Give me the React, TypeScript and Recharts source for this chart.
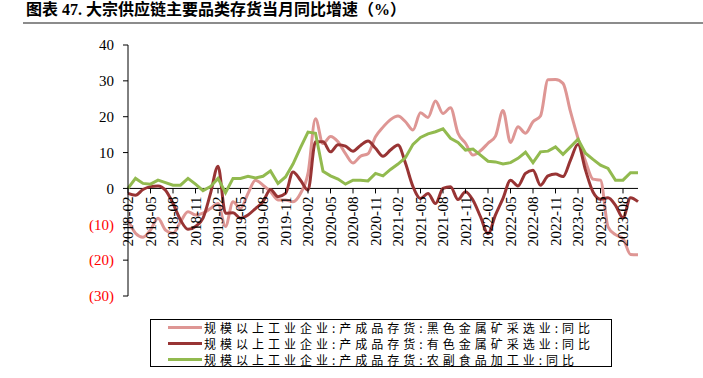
import { Line, LineChart, ReferenceLine, XAxis, YAxis } from 'recharts';

// 月份 2018-02 ~ 2023-10
const MONTHS = [
  '2018-02', '2018-03', '2018-04', '2018-05', '2018-06', '2018-07', '2018-08', '2018-09', '2018-10', '2018-11', '2018-12',
  '2019-01', '2019-02', '2019-03', '2019-04', '2019-05', '2019-06', '2019-07', '2019-08', '2019-09', '2019-10', '2019-11', '2019-12',
  '2020-01', '2020-02', '2020-03', '2020-04', '2020-05', '2020-06', '2020-07', '2020-08', '2020-09', '2020-10', '2020-11', '2020-12',
  '2021-01', '2021-02', '2021-03', '2021-04', '2021-05', '2021-06', '2021-07', '2021-08', '2021-09', '2021-10', '2021-11', '2021-12',
  '2022-01', '2022-02', '2022-03', '2022-04', '2022-05', '2022-06', '2022-07', '2022-08', '2022-09', '2022-10', '2022-11', '2022-12',
  '2023-01', '2023-02', '2023-03', '2023-04', '2023-05', '2023-06', '2023-07', '2023-08', '2023-09', '2023-10',
];

// 黑色金属矿采选业
const FERROUS = [
  -8.8, -12.5, -13.6, -11.6, -8.3, -11.6, -12.5, -9.3, -6.5, -7.4, -6.9,
  -5.6, -4.2, -10.6, -3.7, -5.6, -1.4, 2.3, 0.9, -0.9, -3.2, -3.2, -3.7,
  -1.4, 4.2, 19.4, 12.5, 14.5, 13, 9.7, 7.1, 9, 9.7, 14.4, 17.1,
  19.2, 20.2, 18.6, 16.3, 21.1, 19.8, 24.4, 20.9, 22.5, 15.4, 12.6, 9.3,
  10.5, 12.6, 14.6, 21.7, 12.8, 17.2, 15.4, 18.6, 20.2, 30.3, 30.4, 29.3,
  21.4, 14, 7.6, 2.6, 2.3, -10.7, -12.9, -14, -18.4, -18.5,
];

// 有色金属矿采选业
const NONFERROUS = [
  -1.4, -1.9, -0.3, 0.5, 0.7, -0.5, -4.2, -8.8, -11.4, -10.6, -8.3,
  -1.4, 6.2, -6.9, -6.8, -8.3, -7.4, -5.6, -3.7, -0.3, -2.3, -1.4, 4.6,
  2.3, -0.5, 13, 13, 10.2, 12.2, 11.8, 10.4, 12, 13.2, 11.2, 9,
  10.7, 12.1, 7, 0.5, -2.8, -1.4, -4.2, 0, 0.5, -3.1, -0.9, -3.3,
  -7.9, -12.6, -7.4, -2.8, 2.3, 0.7, 4.2, 5.1, 0.9, 3.5, 4, 3.3,
  7.9, 12.3, 5.1, -1, -3, -2.6, -4.7, -8.2, -2.6, -3.7,
];

// 农副食品加工业
const AGRI = [
  0, 2.8, 1.4, 1.2, 2.3, 1.6, 0.9, 0.9, 2.8, 1.2, -0.6,
  0.5, 2.8, -1.2, 2.8, 2.8, 3.4, 2.9, 3.4, 4.9, 1.4, 3.2, 6.8,
  11.4, 15.7, 15.4, 4.8, 3.5, 2.6, 1.2, 2.3, 2.3, 2.1, 4.2, 3.5,
  5.3, 6.8, 8.6, 12.3, 14.2, 15.2, 15.8, 16.6, 14, 12.8, 10.7, 11,
  9.3, 7.6, 7.4, 6.8, 7.2, 8.4, 10.1, 7.2, 10.2, 10.4, 11.6, 9.5,
  11.6, 13.7, 9.8, 8.1, 6.5, 5.6, 2.3, 2.3, 4.4, 4.4,
];

const Y_TICKS = [-30, -20, -10, 0, 10, 20, 30, 40];

const SERIES = [
  { key: 'ferrous', name: '规模以上工业企业:产成品存货:黑色金属矿采选业:同比', color: '#DE9694', curve: 'monotone' },
  { key: 'nonferrous', name: '规模以上工业企业:产成品存货:有色金属矿采选业:同比', color: '#983434', curve: 'monotone' },
  { key: 'agri', name: '规模以上工业企业:产成品存货:农副食品加工业:同比', color: '#92BA4F', curve: 'linear' },
] as const;

const data = MONTHS.map((m, i) => ({
  month: m,
  ferrous: FERROUS[i],
  nonferrous: NONFERROUS[i],
  agri: AGRI[i],
}));

const W = 703;
const H = 378;
const MARGIN = { top: 45, right: 65, bottom: 81, left: 68 };
const Y_MIN = -30;
const Y_MAX = 40;
const PLOT_H = H - MARGIN.top - MARGIN.bottom - 1;
const ZERO_Y = MARGIN.top + (PLOT_H * Y_MAX) / (Y_MAX - Y_MIN);

const SERIF = '"Liberation Serif", "Times New Roman", serif';

function MonthTick(props: any) {
  const { x, payload } = props;
  return (
    <g transform={`translate(${x},${ZERO_Y})`}>
      <line x1={0} y1={0} x2={0} y2={5} stroke="#000" />
      <text
        transform="rotate(-90)"
        x={-8}
        y={0}
        dy="0.35em"
        textAnchor="end"
        fontSize={15}
        fontFamily={SERIF}
        fill="#000"
      >
        {payload.value}
      </text>
    </g>
  );
}

function ValueTick(props: any) {
  const { x, y, payload } = props;
  const v = payload.value as number;
  const label = v < 0 ? `(${Math.abs(v)})` : `${v}`;
  return (
    <text x={x} y={y} dy="0.35em" textAnchor="end" fontSize={15} fontFamily={SERIF} fill={v < 0 ? '#FF0000' : '#000'}>
      {label}
    </text>
  );
}

export default function App() {
  return (
    <div style={{ position: 'relative', width: W, height: H, background: '#fff', overflow: 'hidden' }}>
      <style>{'body{margin:0}'}</style>

      {/* 标题 */}
      <div
        style={{
          position: 'absolute',
          left: 26,
          top: 1,
          fontSize: 16,
          fontWeight: 700,
          fontFamily: '"Liberation Serif", "Noto Sans CJK SC", serif',
          whiteSpace: 'nowrap',
          lineHeight: '18px',
        }}
      >
        图表 47. 大宗供应链主要品类存货当月同比增速（%）
      </div>
      <div style={{ position: 'absolute', left: 23, right: 0, top: 22, height: 2, background: '#8c8c8c' }} />

      <LineChart width={W} height={H} data={data} margin={MARGIN}>
        <XAxis
          dataKey="month"
          interval={2}
          height={1}
          axisLine={false}
          tickLine={false}
          tick={<MonthTick />}
        />
        <YAxis
          domain={[Y_MIN, Y_MAX]}
          ticks={Y_TICKS}
          width={60}
          tickSize={5}
          tickMargin={9}
          axisLine={{ stroke: '#000' }}
          tickLine={{ stroke: '#000' }}
          tick={<ValueTick />}
          allowDataOverflow
        />
        <ReferenceLine y={0} stroke="#000" strokeWidth={1} />
        {SERIES.map((s) => (
          <Line
            key={s.key}
            type={s.curve}
            dataKey={s.key}
            name={s.name}
            stroke={s.color}
            strokeWidth={3}
            dot={false}
            activeDot={false}
            isAnimationActive={false}
          />
        ))}
      </LineChart>

      {/* 图例 */}
      <div
        style={{
          position: 'absolute',
          left: 150,
          top: 319,
          width: 462,
          height: 48,
          border: '1px solid #000',
          boxSizing: 'border-box',
        }}
      >
        {SERIES.map((s, i) => (
          <div
            key={s.key}
            style={{
              position: 'absolute',
              left: 17,
              top: i * 16,
              height: 15,
              display: 'flex',
              alignItems: 'center',
              whiteSpace: 'nowrap',
            }}
          >
            <span style={{ display: 'inline-block', width: 34, height: 3, background: s.color, marginRight: 2 }} />
            <span
              style={{
                fontSize: 12,
                letterSpacing: 4,
                fontFamily: '"Noto Sans CJK SC", sans-serif',
                color: '#000',
                lineHeight: '15px',
              }}
            >
              {s.name}
            </span>
          </div>
        ))}
      </div>
    </div>
  );
}
